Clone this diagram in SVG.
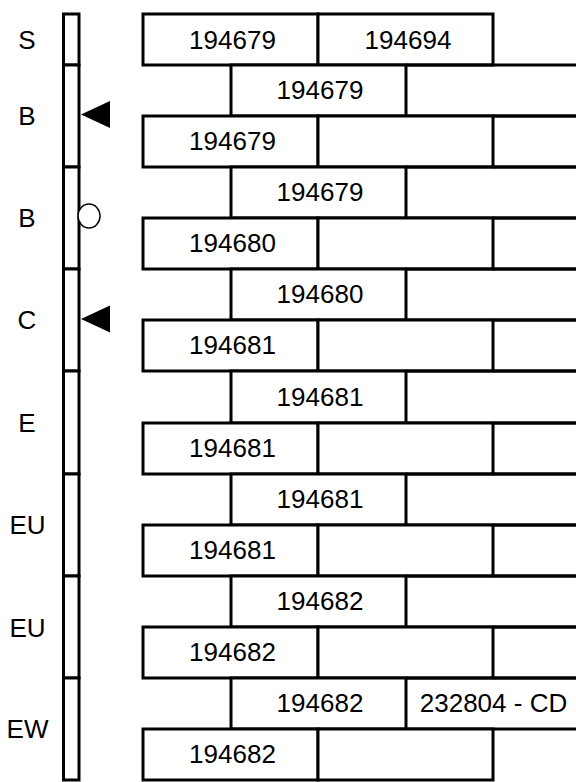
<svg xmlns="http://www.w3.org/2000/svg" width="576" height="782" viewBox="0 0 576 782">
  <style>
    .ln { fill: #fff; stroke: #000; stroke-width: 3; }
    .open { fill: none; stroke: #000; stroke-width: 3; }
    .t { font-family: "Liberation Sans", Arial, sans-serif; font-size: 26px; fill: #000; text-anchor: middle; }
    .mk { fill: #000; stroke: none; }
    .ring { fill: #fff; stroke: #000; stroke-width: 1.5; }
  </style>
  <rect width="576" height="782" fill="#fff"/>

  <!-- timeline bar with segment labels -->
  <g id="timeline">
    <g id="seg-S"><rect class="ln" x="63.5" y="14" width="15.5" height="51"/><text class="t" x="27" y="48.5">S</text></g>
    <g id="seg-B1"><rect class="ln" x="63.5" y="65" width="15.5" height="102"/><text class="t" x="27" y="125">B</text></g>
    <g id="seg-B2"><rect class="ln" x="63.5" y="167" width="15.5" height="102"/><text class="t" x="27" y="227">B</text></g>
    <g id="seg-C"><rect class="ln" x="63.5" y="269" width="15.5" height="102"/><text class="t" x="27" y="329">C</text></g>
    <g id="seg-E"><rect class="ln" x="63.5" y="371" width="15.5" height="103"/><text class="t" x="27" y="431.5">E</text></g>
    <g id="seg-EU1"><rect class="ln" x="63.5" y="474" width="15.5" height="102"/><text class="t" x="27.5" y="534">EU</text></g>
    <g id="seg-EU2"><rect class="ln" x="63.5" y="576" width="15.5" height="102"/><text class="t" x="27.5" y="637">EU</text></g>
    <g id="seg-EW"><rect class="ln" x="63.5" y="678" width="15.5" height="102"/><text class="t" x="27.5" y="738">EW</text></g>
  </g>

  <!-- markers beside the bar -->
  <g id="markers">
    <polygon id="mark-B1" class="mk" points="81,114.5 110,101 110,128"/>
    <ellipse id="mark-B2" class="ring" cx="89" cy="216" rx="11" ry="12"/>
    <polygon id="mark-C" class="mk" points="81,319 110,305.5 110,332.5"/>
  </g>

  <!-- brick rows: full rows 143-318-493-(576), offset rows 231-406-(576) -->
  <g id="rows">
    <g id="row0">
      <rect class="ln" x="143" y="14" width="175" height="51"/>
      <rect class="ln" x="318" y="14" width="175" height="51"/>
      <text class="t" x="232.5" y="48.5">194679</text>
      <text class="t" x="408" y="48.5">194694</text>
    </g>
    <g id="row1">
      <rect class="ln" x="231" y="65" width="175" height="51"/>
      <path class="open" d="M406,65H576M406,116H576"/>
      <text class="t" x="320" y="99">194679</text>
    </g>
    <g id="row2">
      <rect class="ln" x="143" y="116" width="175" height="51"/>
      <rect class="ln" x="318" y="116" width="175" height="51"/>
      <path class="open" d="M493,116H576M493,167H576"/>
      <text class="t" x="232.5" y="150">194679</text>
    </g>
    <g id="row3">
      <rect class="ln" x="231" y="167" width="175" height="51"/>
      <path class="open" d="M406,167H576M406,218H576"/>
      <text class="t" x="320" y="201">194679</text>
    </g>
    <g id="row4">
      <rect class="ln" x="143" y="218" width="175" height="51"/>
      <rect class="ln" x="318" y="218" width="175" height="51"/>
      <path class="open" d="M493,218H576M493,269H576"/>
      <text class="t" x="232.5" y="252">194680</text>
    </g>
    <g id="row5">
      <rect class="ln" x="231" y="269" width="175" height="51"/>
      <path class="open" d="M406,269H576M406,320H576"/>
      <text class="t" x="320" y="303">194680</text>
    </g>
    <g id="row6">
      <rect class="ln" x="143" y="320" width="175" height="51"/>
      <rect class="ln" x="318" y="320" width="175" height="51"/>
      <path class="open" d="M493,320H576M493,371H576"/>
      <text class="t" x="232.5" y="354">194681</text>
    </g>
    <g id="row7">
      <rect class="ln" x="231" y="371" width="175" height="52"/>
      <path class="open" d="M406,371H576M406,423H576"/>
      <text class="t" x="320" y="405.5">194681</text>
    </g>
    <g id="row8">
      <rect class="ln" x="143" y="423" width="175" height="51"/>
      <rect class="ln" x="318" y="423" width="175" height="51"/>
      <path class="open" d="M493,423H576M493,474H576"/>
      <text class="t" x="232.5" y="457">194681</text>
    </g>
    <g id="row9">
      <rect class="ln" x="231" y="474" width="175" height="51"/>
      <path class="open" d="M406,474H576M406,525H576"/>
      <text class="t" x="320" y="508">194681</text>
    </g>
    <g id="row10">
      <rect class="ln" x="143" y="525" width="175" height="51"/>
      <rect class="ln" x="318" y="525" width="175" height="51"/>
      <path class="open" d="M493,525H576M493,576H576"/>
      <text class="t" x="232.5" y="559">194681</text>
    </g>
    <g id="row11">
      <rect class="ln" x="231" y="576" width="175" height="51"/>
      <path class="open" d="M406,576H576M406,627H576"/>
      <text class="t" x="320" y="610">194682</text>
    </g>
    <g id="row12">
      <rect class="ln" x="143" y="627" width="175" height="51"/>
      <rect class="ln" x="318" y="627" width="175" height="51"/>
      <path class="open" d="M493,627H576M493,678H576"/>
      <text class="t" x="232.5" y="661">194682</text>
    </g>
    <g id="row13">
      <rect class="ln" x="231" y="678" width="175" height="51"/>
      <path class="open" d="M406,678H576M406,729H576"/>
      <text class="t" x="320" y="712">194682</text>
      <text class="t" x="493.5" y="712">232804 - CD</text>
    </g>
    <g id="row14">
      <rect class="ln" x="143" y="729" width="175" height="51"/>
      <rect class="ln" x="318" y="729" width="175" height="51"/>
      <text class="t" x="232.5" y="763">194682</text>
    </g>
  </g>
</svg>
